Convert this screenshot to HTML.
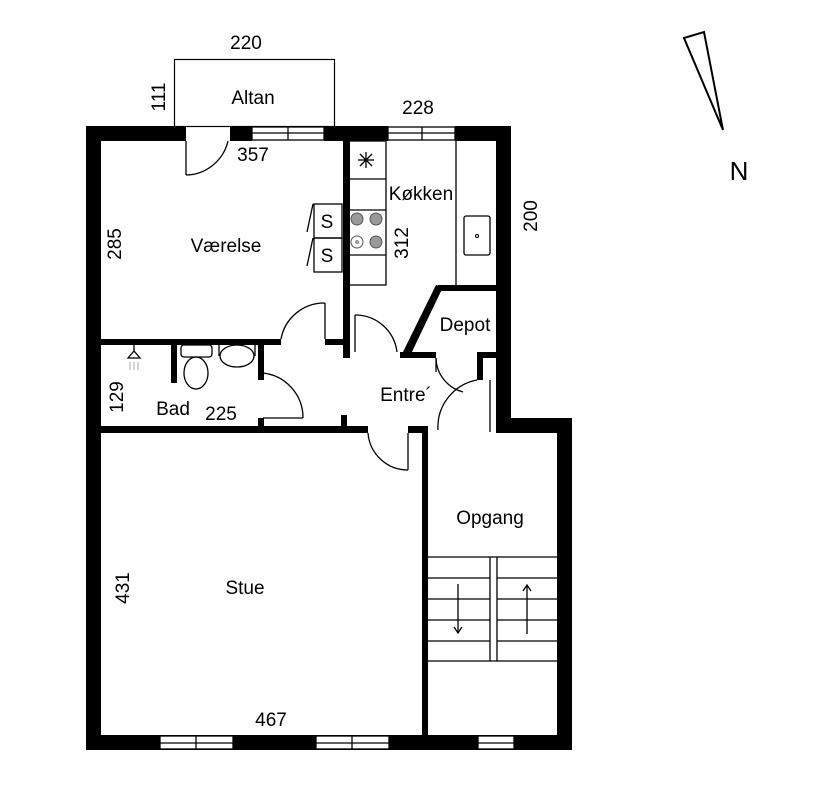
<!DOCTYPE html>
<html><head><meta charset="utf-8"><style>
body{margin:0;background:#fff}
svg{display:block}
text{font-family:"Liberation Sans",sans-serif;font-size:19px;fill:#000}
</style></head><body>
<svg width="829" height="800" viewBox="0 0 829 800" xmlns="http://www.w3.org/2000/svg">
<rect x="174.5" y="59.5" width="160" height="67" fill="none" stroke="#000" stroke-width="1.2"/>
<g fill="#000">
<rect x="86" y="126" width="100" height="15"/>
<rect x="230" y="126" width="22" height="15"/>
<rect x="324" y="126" width="64" height="15"/>
<rect x="455" y="126" width="56" height="15"/>
<rect x="86" y="126" width="15" height="624"/>
<rect x="496" y="126" width="15" height="306"/>
<rect x="496" y="418" width="76" height="15"/>
<rect x="557" y="418" width="15" height="332"/>
<rect x="86" y="735" width="486" height="15"/>
<rect x="343" y="141" width="7" height="217"/>
<rect x="101" y="339" width="180" height="6"/>
<rect x="325" y="339" width="20" height="6"/>
<rect x="171" y="345" width="6" height="38"/>
<rect x="258" y="345" width="6" height="35"/>
<rect x="101" y="426" width="267" height="7"/>
<rect x="258" y="418" width="6" height="10"/>
<rect x="341" y="415" width="6" height="13"/>
<rect x="408" y="426" width="20" height="7"/>
<rect x="422" y="426" width="6" height="309"/>
<rect x="400" y="352" width="36" height="6"/>
<rect x="477" y="352" width="20" height="6"/>
<rect x="477" y="352" width="6" height="28"/>
<rect x="438" y="285" width="58" height="6"/>
<polygon points="400,358 409,358 443,287 436,285"/>
</g>
<g fill="none" stroke="#000" stroke-width="1.3">
<line x1="490" y1="380" x2="490" y2="432"/>
<line x1="186" y1="141" x2="186" y2="175"/>
<path d="M186,175 A44,44 0 0 0 228,141"/>
<line x1="325" y1="303" x2="325" y2="339"/>
<path d="M281,339 A44,44 0 0 1 325,303"/>
<line x1="355" y1="315" x2="355" y2="352"/>
<path d="M355,315 A42,42 0 0 1 397,352"/>
<line x1="263" y1="418" x2="303" y2="418"/>
<path d="M263,373 A45,45 0 0 1 303,418"/>
<line x1="408" y1="433" x2="408" y2="470"/>
<path d="M368,433 A40,40 0 0 0 408,470"/>
<line x1="436" y1="358" x2="436" y2="372"/>
<path d="M436,358 A36,36 0 0 0 463,392"/>
<path d="M477,380 A48,48 0 0 0 438,430"/>
<g fill="#fff">
<rect x="252" y="127" width="72" height="13"/><rect x="388" y="127" width="67" height="13"/>
<rect x="160" y="736" width="73" height="13"/><rect x="316" y="736" width="73" height="13"/><rect x="478" y="736" width="36" height="13"/>
</g>
<line x1="252" y1="133" x2="324" y2="133"/><line x1="288" y1="127" x2="288" y2="140"/>
<line x1="388" y1="133" x2="455" y2="133"/><line x1="422" y1="127" x2="422" y2="140"/>
<line x1="160" y1="743" x2="233" y2="743"/><line x1="196" y1="736" x2="196" y2="749"/>
<line x1="316" y1="743" x2="389" y2="743"/><line x1="352" y1="736" x2="352" y2="749"/>
<line x1="478" y1="743" x2="514" y2="743"/>
<rect x="349" y="141" width="37" height="144"/>
<line x1="349" y1="179" x2="386" y2="179"/><line x1="349" y1="210" x2="386" y2="210"/><line x1="349" y1="255" x2="386" y2="255"/>
<line x1="456" y1="141" x2="456" y2="285"/>
<rect x="464" y="216" width="26" height="39" rx="2"/>
<line x1="358" y1="160" x2="374" y2="160"/><line x1="366" y1="152" x2="366" y2="168"/>
<line x1="360" y1="154" x2="372" y2="166"/><line x1="372" y1="154" x2="360" y2="166"/>
<rect x="314" y="204" width="28" height="34"/><rect x="314" y="238" width="28" height="34"/>
<line x1="313" y1="204" x2="307" y2="232"/><line x1="313" y1="238" x2="307" y2="266"/>
<rect x="181" y="345" width="31" height="12" rx="3"/>
<ellipse cx="196" cy="373" rx="12" ry="16"/>
<ellipse cx="237" cy="356" rx="17" ry="11"/>
<path d="M219,345 L219,356 M255,345 L255,356"/>
<path d="M128,358 L134,351 L140,358 Z M134,345 L134,351"/>
<line x1="428" y1="557" x2="558" y2="557"/>
<line x1="428" y1="578" x2="490" y2="578"/><line x1="497" y1="578" x2="558" y2="578"/>
<line x1="428" y1="599" x2="490" y2="599"/><line x1="497" y1="599" x2="558" y2="599"/>
<line x1="428" y1="620" x2="490" y2="620"/><line x1="497" y1="620" x2="558" y2="620"/>
<line x1="428" y1="641" x2="490" y2="641"/><line x1="497" y1="641" x2="558" y2="641"/>
<line x1="428" y1="661" x2="558" y2="661"/>
<line x1="490" y1="557" x2="490" y2="661"/><line x1="497" y1="557" x2="497" y2="661"/>
<line x1="458" y1="584" x2="458" y2="632"/><path d="M454,627 L458,633 L462,627"/>
<line x1="527" y1="586" x2="527" y2="634"/><path d="M523,591 L527,585 L531,591"/>
<polygon points="684,38 704,32 723,130" stroke-width="2"/>
</g>
<circle cx="477" cy="236" r="1.5" fill="none" stroke="#000"/>
<g fill="#999" stroke="#555" stroke-width="1">
<circle cx="357" cy="219" r="6"/><circle cx="376" cy="219" r="6"/>
<circle cx="357" cy="242" r="6" fill="#fff"/><circle cx="376" cy="242" r="6"/>
</g>
<circle cx="357" cy="242" r="2" fill="#999"/>
<g stroke="#aaa" stroke-width="1"><line x1="130" y1="362" x2="130" y2="370"/><line x1="134" y1="362" x2="134" y2="370"/><line x1="138" y1="362" x2="138" y2="370"/></g>
<g text-anchor="middle">
<text x="327" y="228">S</text>
<text x="327" y="262">S</text>
<text x="246" y="49">220</text>
<text x="253" y="104">Altan</text>
<text x="418" y="114">228</text>
<text x="253" y="161">357</text>
<text x="421" y="200">Køkken</text>
<text x="226" y="252">Værelse</text>
<text x="465" y="331">Depot</text>
<text x="406" y="401">Entre´</text>
<text x="173" y="415">Bad</text>
<text x="221" y="420">225</text>
<text x="490" y="524">Opgang</text>
<text x="245" y="594">Stue</text>
<text x="271" y="726">467</text>
<text x="739" y="180" style="font-size:26px">N</text>
<text transform="translate(165,97) rotate(-90)">111</text>
<text transform="translate(408,243) rotate(-90)">312</text>
<text transform="translate(537,216) rotate(-90)">200</text>
<text transform="translate(121,244) rotate(-90)">285</text>
<text transform="translate(123,397) rotate(-90)">129</text>
<text transform="translate(129,588) rotate(-90)">431</text>
</g>
</svg>
</body></html>
